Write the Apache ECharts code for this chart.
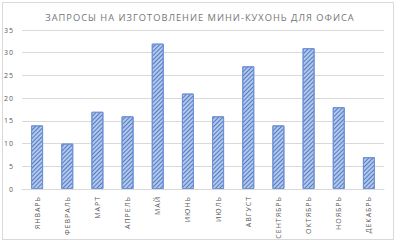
<!DOCTYPE html>
<html>
<head>
<meta charset="utf-8">
<script src="https://cdn.jsdelivr.net/npm/echarts@6/dist/echarts.min.js"></script>
<style>
  html, body { margin: 0; padding: 0; background: #fff; }
  .frame {
    position: absolute; left: 2px; top: 2px; width: 390px; height: 236px;
    border: 1px solid #d9d9d9;
  }
  #chart {
    position: absolute; left: 0; top: 0; width: 400px; height: 245px;
    letter-spacing: 1px;
  }
</style>
</head>
<body>
<div class="frame"></div>
<div id="chart"></div>
<script>
const title = "ЗАПРОСЫ НА ИЗГОТОВЛЕНИЕ МИНИ-КУХОНЬ ДЛЯ ОФИСА";
const months = ["ЯНВАРЬ", "ФЕВРАЛЬ", "МАРТ", "АПРЕЛЬ", "МАЙ", "ИЮНЬ", "ИЮЛЬ", "АВГУСТ", "СЕНТЯБРЬ", "ОКТЯБРЬ", "НОЯБРЬ", "ДЕКАБРЬ"];
const requests = [14, 10, 17, 16, 32, 21, 16, 27, 14, 31, 18, 7];

const chart = echarts.init(document.getElementById("chart"), null, { renderer: "svg" });

const option = {
  animation: false,
  aria: { enabled: false, decal: { show: true } },
  title: {
    text: title,
    left: "center",
    top: 8,
    textStyle: { color: "#767676", fontSize: 9.3, fontWeight: "normal", fontFamily: "Open Sans" },
  },
  grid: { left: 22, right: 16, top: 30, bottom: 56 },
  xAxis: {
    type: "category",
    data: months,
    axisLine: { lineStyle: { color: "#d9d9d9" } },
    axisTick: { show: false },
    axisLabel: { color: "#595959", fontSize: 7, rotate: 90, interval: 0, margin: 7, fontFamily: "Open Sans" },
  },
  yAxis: {
    type: "value",
    min: 0,
    max: 35,
    interval: 5,
    axisLine: { show: false },
    axisTick: { show: false },
    axisLabel: { color: "#595959", fontSize: 7, margin: 8, fontFamily: "Open Sans" },
    splitLine: { lineStyle: { color: "#d9d9d9" } },
  },
  series: [
    {
      type: "bar",
      data: requests,
      barWidth: 12,
      itemStyle: {
        color: "#b4c7e7",
        borderColor: "#6f93d6",
        borderWidth: 1,
        decal: {
          symbol: "rect",
          symbolSize: 1,
          color: "#4f7bcb",
          dashArrayX: [1, 0],
          dashArrayY: [1, 2],
          rotation: -Math.PI / 4,
        },
      },
    },
  ],
};

chart.setOption(option);
</script>
</body>
</html>
